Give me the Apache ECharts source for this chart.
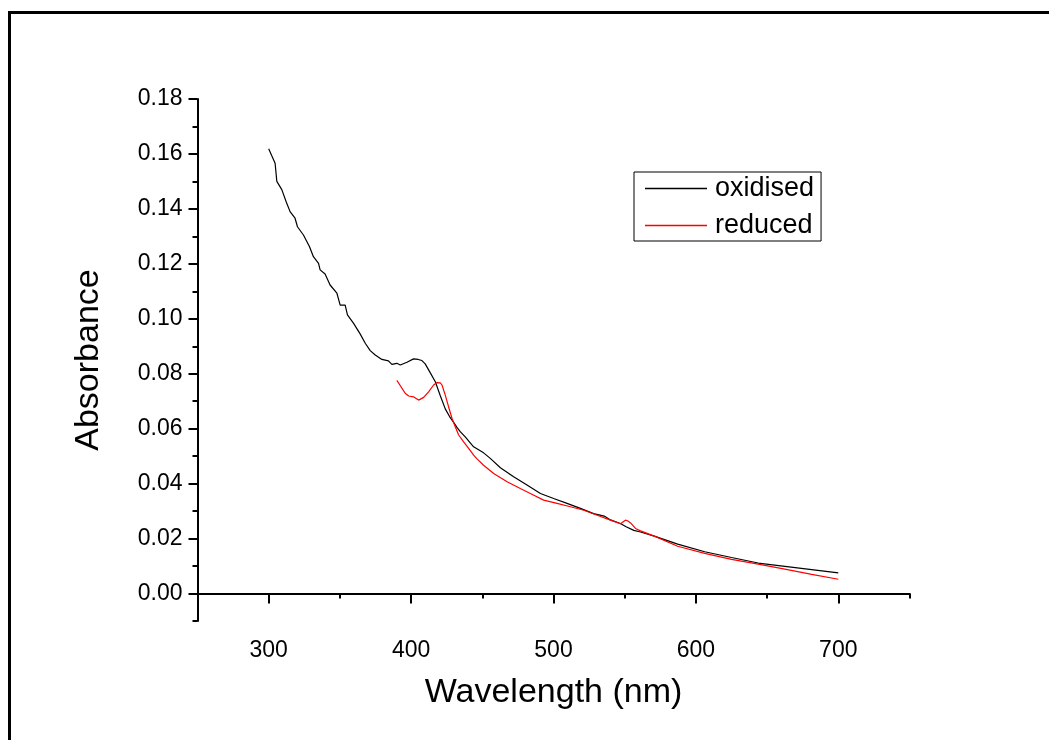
<!DOCTYPE html>
<html><head><meta charset="utf-8">
<script src="https://cdn.jsdelivr.net/npm/echarts@6/dist/echarts.min.js"></script>
<style>html,body{margin:0;padding:0;background:#fff}#c{width:1049px;height:740px}</style>
</head><body><div id="c"></div>
<script>
// ---- data ----
const oxWavelength = [300,302,304.5,305.7,309.2,312.2,315,318.5,320.2,324.4,328.6,331.4,335,336.1,339.6,343.1,347.9,350.2,353.7,355.3,359.5,364.2,367.8,371.3,374.8,379.5,384.1,386.5,390,392.4,397.1,401.7,405,407.6,409.9,413.4,417,420.5,424,427.5,430,432.2,434.5,438,443.9,450.9,455.6,462.7,472,481.4,490.8,500.1,509.5,518.9,528.2,535.6,540,547,551,556.4,561.1,570.8,587.2,606.2,625,643.7,662.5,681.3,700];
const oxAbsorbance = [0.1619,0.1595,0.1566,0.1500,0.1470,0.1427,0.1390,0.1366,0.1335,0.1305,0.1263,0.1226,0.1202,0.1178,0.1163,0.1123,0.1093,0.1050,0.1050,0.1014,0.0984,0.0945,0.0911,0.0884,0.0868,0.0852,0.0847,0.0834,0.0838,0.0832,0.0842,0.0854,0.0852,0.0848,0.0836,0.0804,0.0771,0.0720,0.0672,0.0640,0.0622,0.0605,0.0589,0.0570,0.0534,0.0512,0.0492,0.0458,0.0425,0.0395,0.0364,0.0346,0.0328,0.0310,0.0291,0.0282,0.0268,0.0255,0.0243,0.0230,0.0224,0.0209,0.0180,0.0152,0.0131,0.0111,0.0099,0.0087,0.0075];
const redWavelength = [390,391.2,393.6,396,398.3,401.7,403.5,405.3,408.8,412.3,415.8,418.2,419.3,420.5,421.7,424,426.3,428.7,431,433.4,436.9,440.4,443.9,446.3,450.9,458,467.4,476.7,486.2,493.1,502.5,511.9,521.3,530.7,540,547,550.5,552,554.1,557.6,561.1,570.8,587.2,606.2,625,643.7,662.5,681.3,700];
const redAbsorbance = [0.0776,0.0769,0.0747,0.0728,0.0719,0.0716,0.0710,0.0704,0.0714,0.0734,0.0759,0.0768,0.0769,0.0767,0.0759,0.0722,0.0680,0.0638,0.0607,0.0577,0.0552,0.0528,0.0504,0.0490,0.0467,0.0437,0.0407,0.0382,0.0358,0.0340,0.0328,0.0316,0.0303,0.0285,0.0267,0.0254,0.0267,0.0265,0.0257,0.0237,0.0228,0.0209,0.0172,0.0146,0.0124,0.0107,0.0089,0.0070,0.0052];
const seriesNames = ['oxidised', 'reduced'];
const xMajorTicks = [300, 400, 500, 600, 700];
const xMinorTicks = [250, 350, 450, 550, 650, 750];
const yMajorTicks = [0, 0.02, 0.04, 0.06, 0.08, 0.10, 0.12, 0.14, 0.16, 0.18];
const yMinorTicks = [-0.01, 0.01, 0.03, 0.05, 0.07, 0.09, 0.11, 0.13, 0.15, 0.17];

const FONT = "'Liberation Sans', Arial, sans-serif";
const zip = (a, b) => a.map((v, i) => [v, b[i]]);

const chart = echarts.init(document.getElementById('c'), null, {renderer: 'canvas'});
const axisLineStyle = {color: '#000', width: 2};
chart.setOption({
  animation: false,
  backgroundColor: '#fff',
  textStyle: {fontFamily: FONT, color: '#000'},
  graphic: [
    {type: 'line', shape: {x1: 9.5, y1: 11, x2: 9.5, y2: 740}, style: {stroke: '#000', lineWidth: 3}},
    {type: 'line', shape: {x1: 8, y1: 12.5, x2: 1049, y2: 12.5}, style: {stroke: '#000', lineWidth: 3}}
  ],
  grid: {left: 197.5, right: 139.5, top: 99, bottom: 119, containLabel: false},
  legend: {
    orient: 'vertical', left: 634, top: 172,
    padding: [3, 7, 2, 11], itemGap: 10,
    icon: 'rect', itemWidth: 62, itemHeight: 1.3,
    borderColor: '#000', borderWidth: 1,
    textStyle: {fontFamily: FONT, fontSize: 27, color: '#000', padding: [0, 0, 0, 3]},
    data: seriesNames
  },
  xAxis: [{
    type: 'value', min: 250, max: 750, position: 'bottom',
    name: 'Wavelength (nm)', nameLocation: 'middle', nameGap: 55,
    nameTextStyle: {fontFamily: FONT, fontSize: 34, color: '#000'},
    axisLine: {show: true, lineStyle: axisLineStyle},
    axisTick: {show: true, customValues: xMajorTicks, length: 10, lineStyle: axisLineStyle},
    axisLabel: {show: true, customValues: xMajorTicks, margin: 18, fontSize: 23, color: '#000', fontFamily: FONT},
    splitLine: {show: false}
  }, {
    type: 'value', min: 250, max: 750, position: 'bottom', gridIndex: 0,
    axisLine: {show: false},
    axisTick: {show: true, customValues: xMinorTicks, length: 5, lineStyle: axisLineStyle},
    axisLabel: {show: false},
    splitLine: {show: false}
  }],
  yAxis: [{
    type: 'value', min: -0.01, max: 0.18, position: 'left',
    name: 'Absorbance', nameLocation: 'middle', nameGap: 92, nameRotate: 90,
    nameTextStyle: {fontFamily: FONT, fontSize: 34, color: '#000'},
    axisLine: {show: true, lineStyle: axisLineStyle},
    axisTick: {show: true, customValues: yMajorTicks, length: 9, lineStyle: axisLineStyle},
    axisLabel: {show: true, customValues: yMajorTicks, margin: 15, fontSize: 23, color: '#000', fontFamily: FONT,
      formatter: v => v.toFixed(2)},
    splitLine: {show: false}
  }, {
    type: 'value', min: -0.01, max: 0.18, position: 'left', gridIndex: 0,
    axisLine: {show: false},
    axisTick: {show: true, customValues: yMinorTicks, length: 5, lineStyle: axisLineStyle},
    axisLabel: {show: false},
    splitLine: {show: false}
  }],
  series: [{
    name: seriesNames[0], type: 'line', xAxisIndex: 0, yAxisIndex: 0,
    data: zip(oxWavelength, oxAbsorbance), symbol: 'none',
    lineStyle: {color: '#000', width: 1.2}, itemStyle: {color: '#000'}
  }, {
    name: seriesNames[1], type: 'line', xAxisIndex: 0, yAxisIndex: 0,
    data: zip(redWavelength, redAbsorbance), symbol: 'none',
    lineStyle: {color: '#ff0000', width: 1.2}, itemStyle: {color: '#ff0000'}
  }]
});
</script>
</body></html>
